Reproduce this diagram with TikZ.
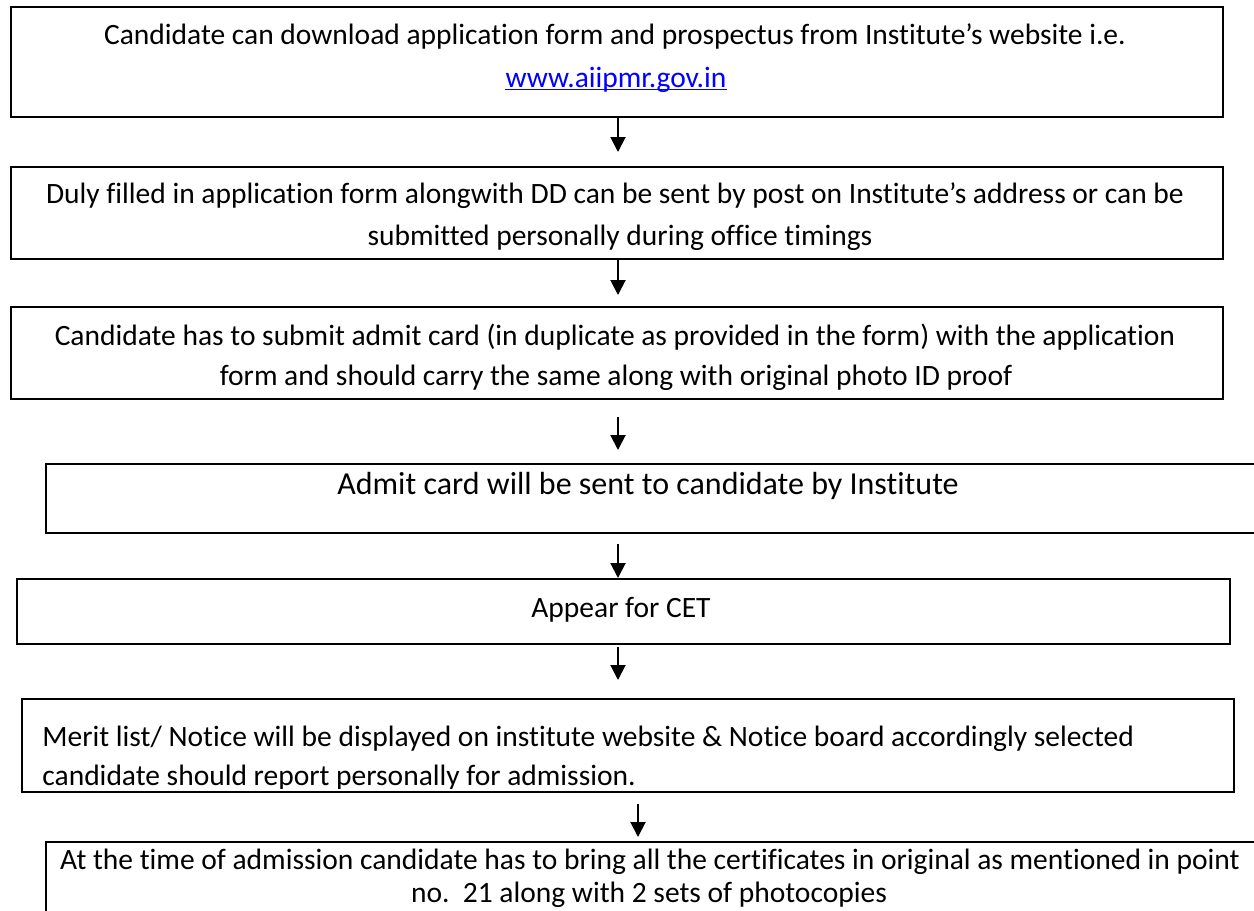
\documentclass[tikz,border=0pt]{standalone}
\usepackage{fontspec}
\setmainfont{Carlito}[Ligatures={NoCommon}]
\usetikzlibrary{arrows.meta}
\definecolor{linkblue}{RGB}{0,0,255}
\begin{document}
\begin{tikzpicture}[x=0.5pt,y=-0.5pt,
  box/.style={draw=black, line width=1pt, rectangle, inner sep=0pt, anchor=north west},
  txt/.style={inner sep=0pt, anchor=base, font=\fontsize{14.75}{17}\selectfont},
  bigtxt/.style={txt, font=\fontsize{16}{18}\selectfont},
  arr/.style={line width=1pt, -{Triangle[width=7.5pt,length=7.5pt]}}]
\useasboundingbox (0,0) rectangle (1254,911);
\clip (0,0) rectangle (1254,911);
% boxes
\node[box, minimum width=606pt, minimum height=55pt] (b1) at (10,6) {};
\node[box, minimum width=606pt, minimum height=46pt] (b2) at (10,166) {};
\node[box, minimum width=606pt, minimum height=46pt] (b3) at (10,306) {};
\node[box, line width=1.1pt, minimum width=612.5pt, minimum height=34.5pt] (b4) at (45,463) {};
\node[box, minimum width=606.5pt, minimum height=32.5pt] (b5) at (16,578) {};
\node[box, minimum width=606pt, minimum height=46.5pt] (b6) at (21,698) {};
\node[box, line width=1.1pt, minimum width=612.5pt, minimum height=49.5pt] (b7) at (45,841) {};
% texts
\node[txt] (t1a) at (615,44) {Candidate can download application form and prospectus from Institute’s website i.e.};
\node[txt, text=linkblue] (t1b) at (616,87) {www.aiipmr.gov.in};
\draw[linkblue, line width=0.6pt] ([yshift=-1.3pt]t1b.base west) -- ([yshift=-1.3pt]t1b.base east);
\begin{scope}
\clip (b2.north west) rectangle ([yshift=5.5pt]b2.south east);
\node[txt] (t2a) at (615,203) {Duly filled in application form alongwith DD can be sent by post on Institute’s address or can be};
\node[txt] (t2b) at (620,245) {submitted personally during office timings};
\end{scope}
\begin{scope}
\clip (b3.north west) rectangle ([yshift=5.5pt]b3.south east);
\node[txt] (t3a) at (615,345) {Candidate has to submit admit card (in duplicate as provided in the form) with the application};
\node[txt] (t3b) at (616,385) {form and should carry the same along with original photo ID proof};
\end{scope}
\node[bigtxt] (t4) at (648,494) {Admit card will be sent to candidate by Institute};
\node[txt] (t5) at (621,617) {Appear for CET};
\begin{scope}
\clip (b6.north west) rectangle ([yshift=2.5pt]b6.south east);
\node[txt, anchor=base west] (t6a) at (42,746) {Merit list/ Notice will be displayed on institute website \& Notice board accordingly selected};
\node[txt, anchor=base west] (t6b) at (42,785) {candidate should report personally for admission.};
\end{scope}
\node[txt] (t7a) at (650,869) {At the time of admission candidate has to bring all the certificates in original as mentioned in point};
\node[txt] (t7b) at (649,902) {no.\ \ 21 along with 2 sets of photocopies};
% arrows
\coordinate (ax) at (618,0);
\coordinate (bx) at (638,0);
\draw[arr, shorten >=7pt] (b1.south -| ax) -- (b2.north -| ax);
\draw[arr, shorten >=5.5pt] (b2.south -| ax) -- (b3.north -| ax);
\draw[arr, shorten <=8.5pt, shorten >=6.5pt] (b3.south -| ax) -- (b4.north -| ax);
\draw[arr, shorten <=5pt] (b4.south -| ax) -- (b5.north -| ax);
\draw[arr, shorten <=1pt, shorten >=9pt] (b5.south -| ax) -- (b6.north -| ax);
\draw[arr, shorten <=5.5pt, shorten >=2pt] (b6.south -| bx) -- (b7.north -| bx);
\end{tikzpicture}
\end{document}
